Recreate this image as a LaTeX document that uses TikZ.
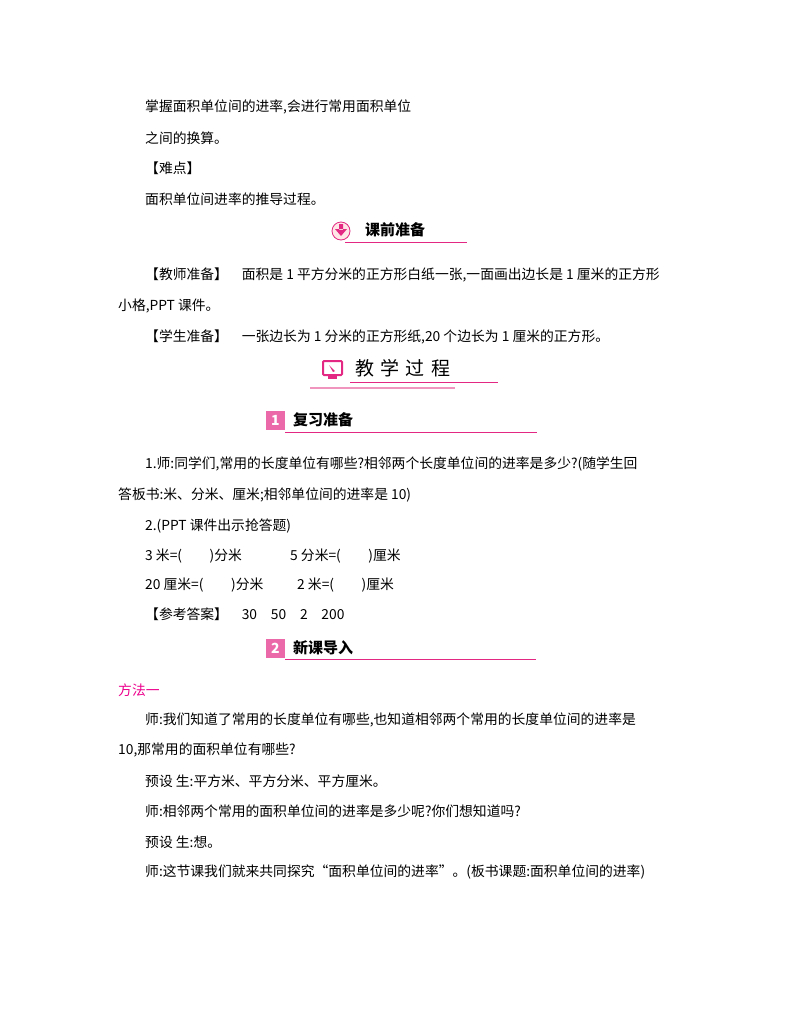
\documentclass[tikz,border=0pt]{standalone}
\usepackage{fontspec}
\setmainfont{Noto Sans CJK SC}
\definecolor{mag}{RGB}{226,40,130}
\definecolor{lmag}{RGB}{240,150,190}
\begin{document}
\begin{tikzpicture}[x=1pt,y=-1pt,
  t/.style={anchor=west,inner sep=0pt,font=\fontsize{13.8}{14}\selectfont},
  h/.style={anchor=west,inner sep=0pt,font=\fontsize{15}{15}\selectfont\bfseries},
  hl/.style={mag,line width=0.8pt}]
\useasboundingbox (0,0) rectangle (800,1028);
\node[t] (l1) at (145,107) {掌握面积单位间的进率,会进行常用面积单位};
\node[t] (l2) at (145,138) {之间的换算。};
\node[t] (l3) at (145,168) {【难点】};
\node[t] (l4) at (145,199) {面积单位间进率的推导过程。};
% header 1
\node[circle,draw=mag,fill=pink!40,line width=0.8pt,minimum size=18pt,inner sep=0pt] (i1) at (341,231) {};
\fill[mag] (339,224) rectangle (343,230) (335,229)--(347,229)--(341,236)--cycle;
\node[h] (h1) at (365,230) {课前准备};
\draw[hl] (345,242) -- (467,242);
\node[t] (l5) at (145,275) {【教师准备】\quad 面积是 1 平方分米的正方形白纸一张,一面画出边长是 1 厘米的正方形};
\node[t] (l6) at (118,306) {小格,PPT 课件。};
\node[t] (l7) at (145,337) {【学生准备】\quad 一张边长为 1 分米的正方形纸,20 个边长为 1 厘米的正方形。};
% header 2
\draw[mag,fill=white,line width=2pt,rounded corners=1pt] (323,361) rectangle (342,375);
\fill[mag] (328,375) rectangle (337,379);
\fill[mag] (329,365)--(335,371)--(333,372)--cycle;
\node[anchor=west,inner sep=0pt,font=\fontsize{19}{19}\selectfont] (h2) at (355,368) {教\,\,学\,\,过\,\,程};
\draw[hl] (350,382) -- (498,382);
\draw[lmag,line width=1.2pt] (310,388) -- (455,388);
% header 3
\fill[mag!70] (266,411) rectangle (285,430);
\node[anchor=center,font=\fontsize{14}{14}\selectfont\bfseries\itshape,text=white] (n1) at (275.5,420.5) {1};
\node[h] (h3) at (293,420) {复习准备};
\draw[hl] (285,432) -- (537,432);
\node[t] (l8) at (145,464) {1.师:同学们,常用的长度单位有哪些?相邻两个长度单位间的进率是多少?(随学生回};
\node[t] (l9) at (118,495) {答板书:米、分米、厘米;相邻单位间的进率是 10)};
\node[t] (l10) at (145,526) {2.(PPT 课件出示抢答题)};
\node[t] (l11) at (145,556) {3 米=(\hspace{2em})分米};
\node[t] (l12) at (290,556) {5 分米=(\hspace{2em})厘米};
\node[t] (l13) at (145,585) {20 厘米=(\hspace{2em})分米};
\node[t] (l14) at (297,585) {2 米=(\hspace{2em})厘米};
\node[t] (l15) at (145,614) {【参考答案】\quad 30\quad 50\quad 2\quad 200};
% header 4
\fill[mag!70] (266,639) rectangle (285,658);
\node[anchor=center,font=\fontsize{14}{14}\selectfont\bfseries\itshape,text=white] (n2) at (275.5,648.5) {2};
\node[h] (h4) at (293,648) {新课导入};
\draw[hl] (285,659) -- (536,659);
\node[t,text=magenta] (l16) at (118,690) {方法一};
\node[t] (l17) at (145,720) {师:我们知道了常用的长度单位有哪些,也知道相邻两个常用的长度单位间的进率是};
\node[t] (l18) at (118,750) {10,那常用的面积单位有哪些?};
\node[t] (l19) at (145,781) {预设\ 生:平方米、平方分米、平方厘米。};
\node[t] (l20) at (145,811) {师:相邻两个常用的面积单位间的进率是多少呢?你们想知道吗?};
\node[t] (l21) at (145,842) {预设\ 生:想。};
\node[t] (l22) at (145,872) {师:这节课我们就来共同探究“面积单位间的进率”。(板书课题:面积单位间的进率)};
\end{tikzpicture}
\end{document}
